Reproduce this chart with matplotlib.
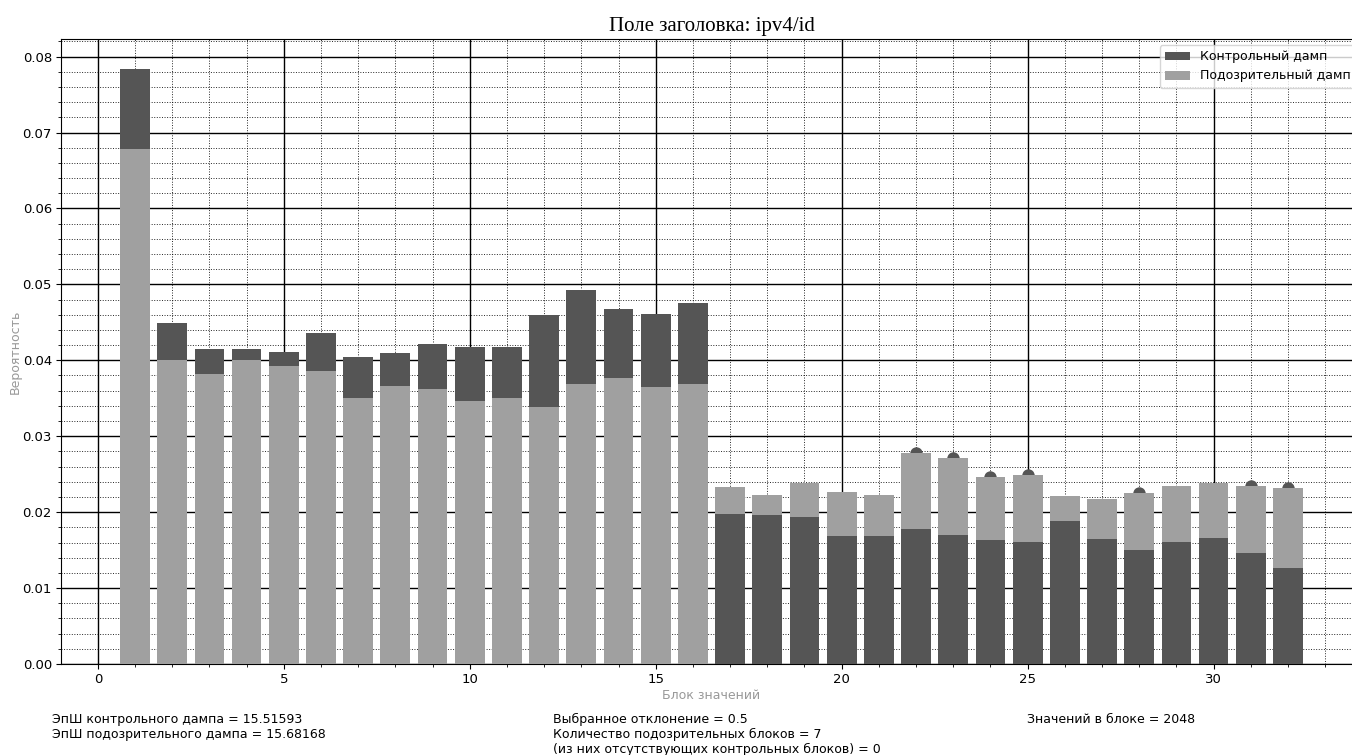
import numpy as np
import matplotlib
matplotlib.use("Agg")
import matplotlib.pyplot as plt
from matplotlib.ticker import MultipleLocator

blocks = list(range(1, 33))
control = [0.0784, 0.0449, 0.04145, 0.04145, 0.0411, 0.0436, 0.0404, 0.0410,
           0.0421, 0.0417, 0.0418, 0.0460, 0.0493, 0.0467, 0.0461, 0.0475,
           0.01974, 0.01956, 0.01939, 0.01684, 0.01684, 0.01772, 0.01702, 0.01627,
           0.01601, 0.01877, 0.01649, 0.01496, 0.01601, 0.01662, 0.01461, 0.01263]
suspicious = [0.0678, 0.0400, 0.0382, 0.0400, 0.0392, 0.0386, 0.0350, 0.0366,
              0.0362, 0.0346, 0.0351, 0.0339, 0.0369, 0.0377, 0.0365, 0.0369,
              0.02325, 0.02224, 0.02386, 0.02259, 0.02224, 0.0278, 0.02715, 0.0246,
              0.02487, 0.0221, 0.02171, 0.0225, 0.02351, 0.02386, 0.02351, 0.02316]
flagged = [22, 23, 24, 25, 28, 31, 32]

title = "Поле заголовка: ipv4/id"
label_control = "Контрольный дамп"
label_susp = "Подозрительный дамп"
xlabel = "Блок значений"
ylabel = "Вероятность"
text_left = "ЭпШ контрольного дампа = 15.51593\nЭпШ подозрительного дампа = 15.68168"
text_mid = "Выбранное отклонение = 0.5\nКоличество подозрительных блоков = 7\n(из них отсутствующих контрольных блоков) = 0"
text_right = "Значений в блоке = 2048"

dark = "#555555"
light = "#a0a0a0"

x = np.array(blocks)
c = np.array(control)
s = np.array(suspicious)

fig = plt.figure(figsize=(13.52, 7.55), dpi=100)
ax = fig.add_axes([61/1352, (755-664)/755, 1301/1352, (664-39)/755])

m = c >= s
# larger value drawn first, smaller on top
ax.bar(x[m], c[m], width=0.8, color=dark, zorder=3, label=label_control)
ax.bar(x[m], s[m], width=0.8, color=light, zorder=4, label=label_susp)
ax.bar(x[~m], s[~m], width=0.8, color=light, zorder=3)
ax.bar(x[~m], c[~m], width=0.8, color=dark, zorder=4)

fi = np.array(flagged)
ax.scatter(fi, s[fi - 1], s=80, color=dark, zorder=2.5, linewidths=0)

ax.xaxis.set_major_locator(MultipleLocator(5))
ax.xaxis.set_minor_locator(MultipleLocator(1))
ax.yaxis.set_major_locator(MultipleLocator(0.01))
ax.yaxis.set_minor_locator(MultipleLocator(0.002))
ax.yaxis.set_major_formatter(matplotlib.ticker.FormatStrFormatter("%.2f"))
ax.grid(True, which="major", color="black", linestyle="-", linewidth=1.0)
ax.grid(True, which="minor", color="black", linestyle=":", linewidth=0.7, alpha=0.85)
for t in ax.xaxis.get_minor_ticks() + ax.yaxis.get_minor_ticks():
    t.gridline.set_zorder(5)
for t in ax.xaxis.get_major_ticks() + ax.yaxis.get_major_ticks():
    t.gridline.set_zorder(5)

ax.tick_params(which="major", length=3.5, labelsize=9.5, pad=3)
ax.tick_params(which="minor", length=2)

ax.set_title(title, fontsize=15, family="Liberation Serif", pad=6)
ax.set_xlabel(xlabel, color="#999999", fontsize=9, labelpad=2)
ax.set_ylabel(ylabel, color="#999999", fontsize=9, labelpad=0.5)

leg = ax.legend(loc="upper right", fontsize=9, framealpha=0.8)

fig.text(52/1352, 1 - 713/755, text_left, fontsize=9, va="top", ha="left", linespacing=1.2)
fig.text(553/1352, 1 - 713/755, text_mid, fontsize=9, va="top", ha="left", linespacing=1.2)
fig.text(1027/1352, 1 - 713/755, text_right, fontsize=9, va="top", ha="left", linespacing=1.2)

fig.savefig("out.png", dpi=100)
